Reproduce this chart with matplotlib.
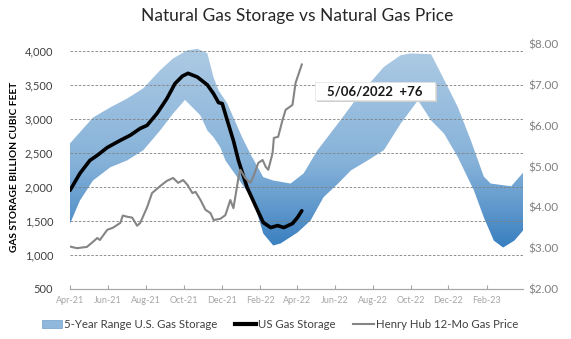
import matplotlib
matplotlib.use("Agg")
import matplotlib.pyplot as plt
import matplotlib.dates as mdates
import matplotlib.ticker as mticker
from matplotlib.colors import LinearSegmentedColormap
from matplotlib.lines import Line2D
from matplotlib.patches import Patch, Polygon, Rectangle
import numpy as np
import pandas as pd

# --- 5-year range of U.S. working gas storage (Bcf) ---
range_upper_dates = ['2021-04-01', '2021-05-08', '2021-06-05', '2021-07-02', '2021-07-28',
                     '2021-08-24', '2021-09-14', '2021-10-07', '2021-10-23', '2021-11-08',
                     '2021-11-18', '2021-11-26', '2021-12-10', '2021-12-20', '2022-01-03',
                     '2022-01-16', '2022-02-06', '2022-02-22', '2022-03-22', '2022-04-12',
                     '2022-05-04', '2022-06-06', '2022-07-08', '2022-08-19', '2022-09-15',
                     '2022-10-01', '2022-11-03', '2022-11-19', '2022-12-16', '2023-01-06',
                     '2023-01-27', '2023-02-07', '2023-03-12', '2023-03-31']
range_upper = [2640, 3020, 3170, 3300, 3450, 3715, 3890, 4010, 4030, 3965,
               3610, 3420, 3230, 3020, 2730, 2490, 2144, 2095, 2050, 2200,
               2537, 2930, 3322, 3764, 3935, 3962, 3951, 3667, 3175, 2684,
               2150, 2050, 2010, 2210]

range_lower_dates = ['2021-04-01', '2021-04-17', '2021-05-08', '2021-06-05', '2021-07-02',
                     '2021-07-28', '2021-08-24', '2021-09-14', '2021-10-03', '2021-10-28',
                     '2021-11-08', '2021-11-18', '2021-11-29', '2021-12-07', '2021-12-31',
                     '2022-01-21', '2022-02-06', '2022-02-22', '2022-03-06', '2022-04-02',
                     '2022-04-23', '2022-05-14', '2022-06-06', '2022-06-27', '2022-07-24',
                     '2022-08-19', '2022-09-15', '2022-10-13', '2022-11-03', '2022-11-24',
                     '2022-12-16', '2023-01-11', '2023-01-27', '2023-02-12', '2023-02-27',
                     '2023-03-17', '2023-03-31']
range_lower = [1460, 1800, 2095, 2290, 2390, 2540, 2830, 3080, 3280, 3050,
               2830, 2730, 2580, 2390, 2080, 1800, 1315, 1140, 1170, 1330,
               1506, 1849, 2047, 2243, 2390, 2540, 2930, 3274, 2979, 2783,
               2439, 1948, 1550, 1211, 1110, 1211, 1359]

# --- US working gas in storage (Bcf) ---
storage_dates = ['2021-04-01', '2021-04-17', '2021-05-03', '2021-05-15', '2021-05-31',
                 '2021-06-21', '2021-07-07', '2021-07-23', '2021-08-03', '2021-08-19',
                 '2021-09-04', '2021-09-17', '2021-09-29', '2021-10-08', '2021-10-23',
                 '2021-11-08', '2021-11-18', '2021-11-26', '2021-12-02', '2021-12-10',
                 '2021-12-20', '2021-12-28', '2022-01-11', '2022-01-28', '2022-02-06',
                 '2022-02-18', '2022-03-01', '2022-03-11', '2022-03-25', '2022-04-02',
                 '2022-04-09']
storage = [1950, 2200, 2390, 2465, 2580, 2685, 2760, 2860, 2905, 3080,
           3300, 3520, 3630, 3670, 3615, 3500, 3370, 3240, 3225, 2980,
           2680, 2390, 1992, 1653, 1477, 1403, 1432, 1403, 1462, 1550,
           1650]

# --- Henry Hub 12-month strip ($/MMBtu) ---
price_dates = ['2021-04-01', '2021-04-12', '2021-04-28', '2021-05-06', '2021-05-15',
               '2021-05-19', '2021-05-31', '2021-06-09', '2021-06-21', '2021-06-25',
               '2021-07-02', '2021-07-10', '2021-07-18', '2021-07-23', '2021-08-03',
               '2021-08-11', '2021-08-24', '2021-09-04', '2021-09-14', '2021-09-22',
               '2021-09-30', '2021-10-07', '2021-10-15', '2021-10-20', '2021-10-28',
               '2021-11-05', '2021-11-13', '2021-11-18', '2021-11-29', '2021-12-07',
               '2021-12-15', '2021-12-20', '2021-12-28', '2021-12-31', '2022-01-08',
               '2022-01-16', '2022-01-21', '2022-01-29', '2022-02-05', '2022-02-10',
               '2022-02-14', '2022-02-21', '2022-02-23', '2022-03-02', '2022-03-09',
               '2022-03-14', '2022-03-25', '2022-03-30', '2022-04-09']
price = [3.04, 3.00, 3.03, 3.13, 3.25, 3.20, 3.45, 3.50, 3.62, 3.80,
         3.77, 3.75, 3.55, 3.62, 4.00, 4.35, 4.52, 4.65, 4.72, 4.60,
         4.67, 4.55, 4.35, 4.38, 4.18, 3.94, 3.86, 3.69, 3.72, 3.81,
         4.18, 3.98, 4.72, 4.92, 4.72, 4.60, 4.75, 5.09, 5.16, 4.99,
         4.92, 5.33, 5.70, 5.73, 6.14, 6.39, 6.51, 7.05, 7.50]

latest_label = '5/06/2022  +76'

plt.rcParams['font.family'] = ['Lato', 'DejaVu Sans']

fig = plt.figure(figsize=(5.71, 3.39), dpi=100)
ax = fig.add_axes([0.1226, 0.1475, 0.7934, 0.7225])
ax2 = ax.twinx()

x_start, x_end = pd.Timestamp('2021-04-01'), pd.Timestamp('2023-03-31')
ax.set_xlim(x_start, x_end)
ax.set_ylim(500, 4100)
ax2.set_ylim(2, 8)

# 5-year band: polygon filled with a vertical blue gradient
up_x = mdates.date2num(pd.to_datetime(range_upper_dates))
lo_x = mdates.date2num(pd.to_datetime(range_lower_dates))
verts = np.column_stack([np.concatenate([up_x, lo_x[::-1]]),
                         np.concatenate([range_upper, range_lower[::-1]])])
band = Polygon(verts, closed=True, facecolor='none', edgecolor='none')
ax.add_patch(band)

band_cmap = LinearSegmentedColormap.from_list(
    'band', [(0.0, '#1d6bb2'), (0.18, '#3a80c1'), (0.33, '#5f98cc'),
             (0.52, '#86b2d9'), (1.0, '#aecbe4')])
grad = np.linspace(0, 1, 256).reshape(-1, 1)
xl = mdates.date2num([x_start, x_end])
img = ax.imshow(grad, cmap=band_cmap, origin='lower', aspect='auto',
                extent=[xl[0], xl[1], 500, 4100], zorder=1,
                interpolation='bilinear')
img.set_clip_path(band)
ax.set_xlim(x_start, x_end)
ax.set_ylim(500, 4100)

ax.plot(pd.to_datetime(storage_dates), storage, color='black', lw=2.6,
        solid_capstyle='round', solid_joinstyle='round', zorder=3)
ax2.plot(pd.to_datetime(price_dates), price, color='#858585', lw=1.5, zorder=3)

# Axes styling
ax.set_axisbelow('line')
ax.yaxis.set_major_locator(mticker.MultipleLocator(500))
ax.yaxis.set_major_formatter(mticker.StrMethodFormatter('{x:,.0f}'))
ax.grid(axis='y', color='#7f7f7f', linestyle=(0, (3, 2)), lw=0.6)
ax2.yaxis.set_major_locator(mticker.MultipleLocator(1))
ax2.yaxis.set_major_formatter(mticker.StrMethodFormatter('${x:.2f}'))

ax.xaxis.set_major_locator(mdates.MonthLocator(bymonth=[2, 4, 6, 8, 10, 12]))
ax.xaxis.set_major_formatter(mdates.DateFormatter('%b-%y'))

for a in (ax, ax2):
    for s in ('top', 'left', 'right'):
        a.spines[s].set_visible(False)
    a.spines['bottom'].set_color('#a6a6a6')
    a.spines['bottom'].set_linewidth(0.8)

ax.tick_params(axis='x', direction='in', length=3, color='#a6a6a6',
               labelsize=6.5, labelcolor='#a6a6a6', pad=5)
ax.tick_params(axis='y', length=0, labelsize=8, labelcolor='#404040', pad=12)
ax2.tick_params(axis='y', length=0, labelsize=8.5, labelcolor='#808080', pad=4)

ax.set_ylabel('GAS STORAGE BILLION CUBIC FEET', fontsize=7.3, fontweight='bold',
              color='black', labelpad=4)

# Latest weekly change callout
ax2.add_patch(Rectangle((0.546, 0.763), 0.265, 0.074, transform=ax2.transAxes,
                        facecolor='#cfcfcf', edgecolor='none', zorder=4))
ax2.add_patch(Rectangle((0.541, 0.771), 0.265, 0.074, transform=ax2.transAxes,
                        facecolor='white', edgecolor='#e0e0e0', lw=0.5, zorder=5))
ax2.text(0.673, 0.808, latest_label, transform=ax2.transAxes, ha='center',
         va='center', fontsize=9.5, fontweight='bold', color='#1a1a1a', zorder=6)

fig.text(0.52, 0.952, 'Natural Gas Storage vs Natural Gas Price', ha='center',
         va='center', fontsize=12.5, color='#262626')

handles = [Patch(facecolor='#8fb8dc', edgecolor='#6f9fcc', lw=0.5),
           Line2D([], [], color='black', lw=3),
           Line2D([], [], color='#858585', lw=1.5)]
labels = ['5-Year Range U.S. Gas Storage', 'US Gas Storage', 'Henry Hub 12-Mo Gas Price']
fig.legend(handles, labels, loc='center', bbox_to_anchor=(0.49, 0.042), ncol=3,
           frameon=False, fontsize=8.2, labelcolor='#404040', handlelength=1.8,
           handleheight=0.7, handletextpad=0.15, columnspacing=1.6)

fig.savefig('out.png', dpi=100)
